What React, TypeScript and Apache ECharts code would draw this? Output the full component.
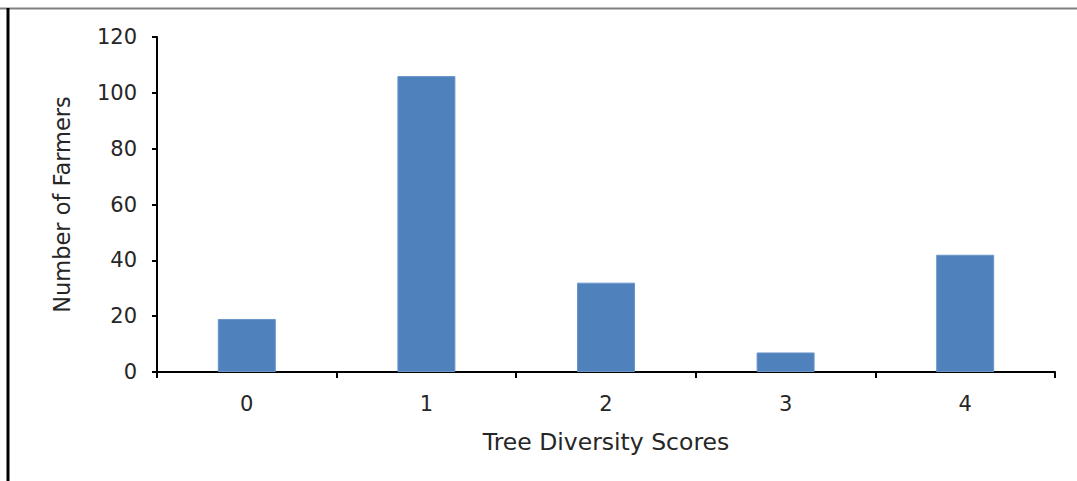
import React, { useEffect, useRef } from "react";
import * as echarts from "echarts";

const categories = ["0", "1", "2", "3", "4"];
const farmerCounts = [19, 106, 32, 7, 42];
const yTicks = { min: 0, max: 120, interval: 20 };

const FONT = "'DejaVu Sans', 'Noto Sans', sans-serif";

export default function App() {
  const ref = useRef<HTMLDivElement>(null);

  useEffect(() => {
    if (!ref.current) return;
    const chart = echarts.init(ref.current, null, { renderer: "svg" });
    chart.setOption({
      animation: false,
      backgroundColor: "#ffffff",
      grid: { left: 157, right: 22, top: 37, bottom: 109, containLabel: false },
      xAxis: {
        type: "category",
        data: categories,
        name: "Tree Diversity Scores",
        nameLocation: "middle",
        nameGap: 58,
        nameTextStyle: { fontFamily: FONT, fontSize: 23.5, color: "#262626" },
        axisLine: { lineStyle: { color: "#000", width: 2 } },
        axisTick: { show: true, alignWithLabel: false, length: 6, lineStyle: { color: "#000", width: 2 } },
        axisLabel: { fontFamily: FONT, fontSize: 21, color: "#262626", margin: 21 },
      },
      yAxis: {
        type: "value",
        min: yTicks.min,
        max: yTicks.max,
        interval: yTicks.interval,
        name: "Number of Farmers",
        nameLocation: "middle",
        nameGap: 84,
        nameRotate: 90,
        nameTextStyle: { fontFamily: FONT, fontSize: 22.5, color: "#262626" },
        axisLine: { show: true, lineStyle: { color: "#000", width: 2 } },
        axisTick: { show: true, length: 5, lineStyle: { color: "#000", width: 2 } },
        axisLabel: { fontFamily: FONT, fontSize: 21, color: "#262626", margin: 20 },
        splitLine: { show: false },
      },
      series: [
        {
          type: "bar",
          data: farmerCounts,
          barWidth: 58,
          itemStyle: { color: "#4F81BD", borderColor: "#6a95c9", borderWidth: 1 },
        },
      ],
      graphic: [
        {
          type: "line",
          shape: { x1: 0, y1: 8.5, x2: 1077, y2: 8.5 },
          style: { stroke: "#7f7f7f", lineWidth: 2 },
        },
        {
          type: "line",
          shape: { x1: 8, y1: 8, x2: 8, y2: 481 },
          style: { stroke: "#000", lineWidth: 3 },
        },
      ],
    });
    return () => chart.dispose();
  }, []);

  return (
    <div
      ref={ref}
      style={{ position: "absolute", left: 0, top: 0, width: 1077, height: 481 }}
    />
  );
}
